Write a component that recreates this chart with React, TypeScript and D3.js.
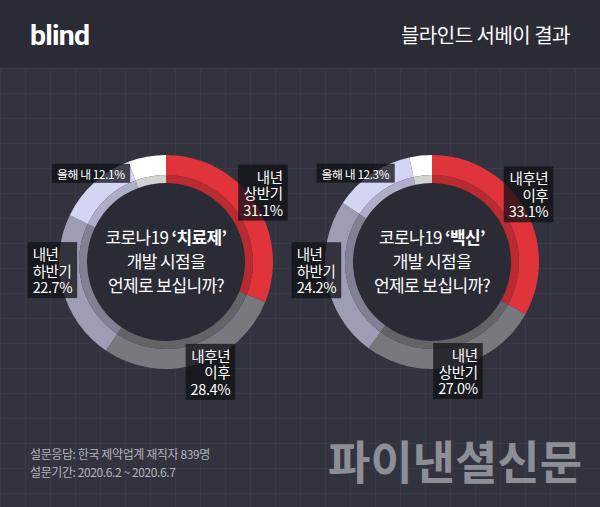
import React, { useEffect, useRef } from "react";
import * as d3 from "d3";

const W = 600;
const H = 507;

// survey answers, clockwise from 12 o'clock
const leftLabels = ["내년 상반기", "내후년 이후", "내년 하반기", "올해 내", "기타"];
const leftValues = [31.1, 28.4, 22.7, 12.1, 5.7];
const rightLabels = ["내후년 이후", "내년 상반기", "내년 하반기", "올해 내", "기타"];
const rightValues = [33.1, 27.0, 24.2, 12.3, 3.4];
const leftTopic = "치료제";
const rightTopic = "백신";

const ringColors = ["#e1343a", "#78787f", "#9d9db3", "#d4d4f3", "#ffffff"];

const noteLines = ["설문응답: 한국 제약업계 재직자  839명", "설문기간: 2020.6.2 ~ 2020.6.7"];

// label placement relative to outer edge at the slice's mid angle
const leftLayout = [
  { dx: 28, dy: -8, anchor: "end" },
  { dx: 33, dy: 9, anchor: "end" },
  { dx: -30, dy: -18, anchor: "start" },
  { dx: -37, dy: -8, anchor: "start", inline: true },
  null,
];
const rightLayout = [
  { dx: 24, dy: -12, anchor: "end" },
  { dx: 23, dy: 6, anchor: "end" },
  { dx: -30, dy: -9, anchor: "start" },
  { dx: -50, dy: 1, anchor: "start", inline: true },
  null,
];

const KR = "'Noto Sans CJK KR', 'Noto Sans', sans-serif";

function drawDonut(svg, cx, cy, labels, values, layout, topic) {
  const outerR = 107, bandR = 87, innerR = 79;
  const g = svg.append("g").attr("transform", `translate(${cx},${cy})`);
  const pie = d3.pie().sort(null).value((d) => d);
  const arcs = pie(values);
  const band = d3.arc().innerRadius(bandR).outerRadius(outerR);
  const shade = d3.arc().innerRadius(innerR).outerRadius(bandR);

  g.append("circle").attr("r", innerR).attr("fill", "#2b2b36");
  g.selectAll(".band").data(arcs).join("path").attr("class", "band")
    .attr("d", band).attr("fill", (d, i) => ringColors[i]);
  g.selectAll(".shade").data(arcs).join("path").attr("class", "shade")
    .attr("d", shade).attr("fill", (d, i) => d3.color(ringColors[i]).darker(0.55).toString());

  // question in the middle
  const q = g.append("text").attr("text-anchor", "middle").attr("fill", "#ffffff")
    .style("font-family", KR).style("font-size", "17px").style("letter-spacing", "-0.6px");
  const l1 = q.append("tspan").attr("x", 0).attr("y", -24 + 6);
  l1.append("tspan").text("코로나19 ");
  l1.append("tspan").attr("font-weight", "bold").text(`‘${topic}’`);
  q.append("tspan").attr("x", 0).attr("y", 0 + 6).text("개발 시점을");
  q.append("tspan").attr("x", 0).attr("y", 24 + 6).text("언제로 보십니까?");

  // labels
  arcs.forEach((a, i) => {
    const lay = layout[i];
    if (!lay) return;
    const mid = (a.startAngle + a.endAngle) / 2;
    const px = outerR * Math.sin(mid) + lay.dx;
    const py = -outerR * Math.cos(mid) + lay.dy;
    const lg = g.append("g");
    const box = lg.append("rect").attr("fill", "rgba(16,16,22,0.75)");
    const t = lg.append("text").attr("text-anchor", lay.anchor).attr("fill", "#ffffff")
      .style("font-family", KR).style("letter-spacing", "-0.4px");
    const pct = `${values[i].toFixed(1)}%`;
    if (lay.inline) {
      t.style("font-size", "11.8px");
      t.append("tspan").attr("x", px).attr("y", py + 4).text(`${labels[i]} ${pct}`);
    } else {
      t.style("font-size", "14.5px");
      const lines = [...labels[i].split(" "), pct];
      const lh = 16.5;
      lines.forEach((s, k) => {
        t.append("tspan").attr("x", px).attr("y", py + (k - (lines.length - 1) / 2) * lh + 5).text(s);
      });
    }
    const bb = t.node().getBBox();
    const padX = 5, padY = 1;
    box.attr("x", bb.x - padX).attr("y", bb.y - padY)
      .attr("width", bb.width + padX * 2).attr("height", bb.height + padY * 2);
  });
}

export default function App() {
  const ref = useRef(null);

  useEffect(() => {
    document.body.style.margin = "0";
    const svg = d3.select(ref.current);
    svg.selectAll("*").remove();

    svg.append("rect").attr("width", W).attr("height", H).attr("fill", "#33333f");
    // faint grid
    const grid = svg.append("g").attr("stroke", "#393947").attr("stroke-width", 1);
    d3.range(0, W, 25).forEach((x) => {
      grid.append("line").attr("x1", x + 0.5).attr("x2", x + 0.5).attr("y1", 68).attr("y2", H);
    });
    d3.range(68, H, 25).forEach((y) => {
      grid.append("line").attr("x1", 0).attr("x2", W).attr("y1", y + 0.5).attr("y2", y + 0.5);
    });
    svg.append("rect").attr("width", W).attr("height", 68).attr("fill", "#2b2b36");

    svg.append("text").attr("x", 30).attr("y", 45).attr("fill", "#ffffff")
      .style("font-family", "Roboto, 'Liberation Sans', sans-serif").style("font-weight", "bold")
      .style("font-size", "28.5px").style("letter-spacing", "-0.8px").text("blind");
    svg.append("text").attr("x", 570).attr("y", 43).attr("text-anchor", "end").attr("fill", "#ffffff")
      .style("font-family", KR).style("font-size", "20px").style("letter-spacing", "-0.5px")
      .text("블라인드 서베이 결과");

    drawDonut(svg, 166, 262, leftLabels, leftValues, leftLayout, leftTopic);
    drawDonut(svg, 432, 262, rightLabels, rightValues, rightLayout, rightTopic);

    noteLines.forEach((s, i) => {
      svg.append("text").attr("x", 30).attr("y", 459 + i * 18).attr("fill", "#b4b4bc")
        .style("font-family", KR).style("font-size", "12px").style("letter-spacing", "-0.4px").text(s);
    });

    svg.append("text").attr("x", 582).attr("y", 479).attr("text-anchor", "end").attr("fill", "#8e8e97")
      .style("font-family", KR).style("font-weight", "bold").style("font-size", "46px")
      .text("파이낸셜신문");
  }, []);

  return <svg ref={ref} width={W} height={H} style={{ display: "block" }} />;
}
